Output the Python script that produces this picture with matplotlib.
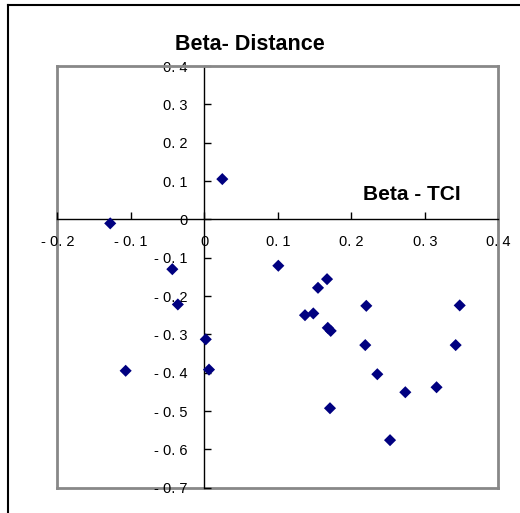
import matplotlib
matplotlib.use("Agg")
import matplotlib.pyplot as plt
from matplotlib.lines import Line2D

plt.rcParams['font.family'] = ['Liberation Sans', 'DejaVu Sans']

beta_tci = [-0.128, 0.0245, -0.0435, -0.036, 0.002, 0.0064, -0.107, 0.1007,
            0.167, 0.1547, 0.2204, 0.3475, 0.137, 0.1483, 0.168, 0.172,
            0.219, 0.342, 0.2354, 0.316, 0.2735, 0.171, 0.2527]
beta_distance = [-0.0105, 0.105, -0.130, -0.222, -0.313, -0.392, -0.395, -0.121,
                 -0.156, -0.1786, -0.2256, -0.2245, -0.250, -0.2454, -0.283, -0.291,
                 -0.328, -0.328, -0.404, -0.438, -0.451, -0.4927, -0.576]

x_ticks = [-0.2, -0.1, 0, 0.1, 0.2, 0.3, 0.4]
x_labels = ["- 0. 2", "- 0. 1", "0", "0. 1", "0. 2", "0. 3", "0. 4"]
y_ticks = [0.4, 0.3, 0.2, 0.1, 0, -0.1, -0.2, -0.3, -0.4, -0.5, -0.6, -0.7]
y_labels = ["0. 4", "0. 3", "0. 2", "0. 1", "0", "- 0. 1", "- 0. 2", "- 0. 3",
            "- 0. 4", "- 0. 5", "- 0. 6", "- 0. 7"]

W, H = 520, 513
fig = plt.figure(figsize=(W / 100, H / 100), dpi=100)
ax = fig.add_axes([57.3 / W, 1 - 487.7 / H, (498.3 - 57.3) / W, (487.7 - 66) / H])

ax.scatter(beta_tci, beta_distance, marker='D', s=38, color='#000080',
           edgecolors='none', zorder=5, clip_on=False)

ax.set_xlim(-0.2, 0.4)
ax.set_ylim(-0.7, 0.4)

for side in ['top', 'right']:
    ax.spines[side].set_color('#888888')
    ax.spines[side].set_linewidth(2)
ax.spines['left'].set_position(('data', 0))
ax.spines['bottom'].set_position(('data', 0))
ax.spines['left'].set_color('black')
ax.spines['bottom'].set_color('black')
ax.spines['left'].set_linewidth(1)
ax.spines['bottom'].set_linewidth(1)

# grey frame on left and bottom
ax.plot([0, 0], [0, 1], transform=ax.transAxes, color='#888888', lw=2, clip_on=False, zorder=1)
ax.plot([0, 1], [0, 0], transform=ax.transAxes, color='#888888', lw=2, clip_on=False, zorder=1)

ax.set_xticks(x_ticks)
ax.set_xticklabels(x_labels)
ax.set_yticks(y_ticks)
ax.set_yticklabels(y_labels)
ax.tick_params(axis='x', direction='in', length=5, width=1, pad=11, labelsize=10.5)
ax.tick_params(axis='y', direction='in', length=5, width=1, pad=12, labelsize=10.5)

fig.text(250 / W, 1 - 44 / H, "Beta- Distance", ha='center', va='center',
         fontsize=15.5, fontweight='bold')
fig.text(412 / W, 1 - 194.5 / H, "Beta - TCI", ha='center', va='center',
         fontsize=15, fontweight='bold')

fig.add_artist(Line2D([7.5 / W, 7.5 / W], [0, 1 - 4.5 / H], color='black', lw=1.5))
fig.add_artist(Line2D([7.5 / W, 1], [1 - 4.5 / H, 1 - 4.5 / H], color='black', lw=1.5))

fig.savefig("out.png", dpi=100)
